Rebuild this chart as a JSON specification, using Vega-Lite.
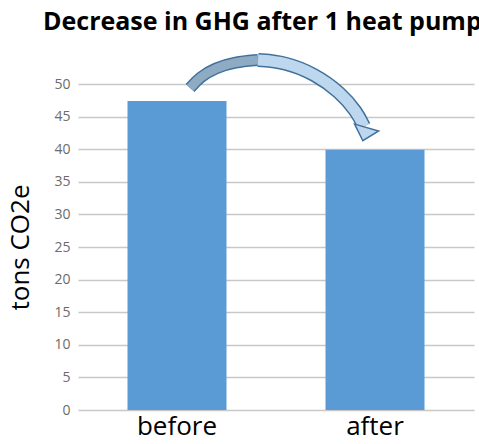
{
  "$schema": "https://vega.github.io/schema/vega-lite/v6.json",
  "width": 396,
  "height": 326,
  "autosize": {"type": "none"},
  "padding": {"left": 78, "top": 84, "right": 5, "bottom": 34},
  "background": "white",
  "config": {"view": {"stroke": null}, "font": "Open Sans"},
  "title": {
    "text": "Decrease in GHG after 1 heat pump",
    "anchor": "start",
    "frame": "group",
    "fontSize": 25,
    "fontWeight": "bold",
    "color": "#000000",
    "font": "Open Sans",
    "dx": -35,
    "dy": 23,
    "offset": 20
  },
  "datasets": {
    "bars": [
      {"stage": "before", "tons": 47.4},
      {"stage": "after", "tons": 39.9}
    ],
    "arrowBack": [
      {"px": 0.066, "py": 49.39, "o": 1},
      {"px": 0.116, "py": 51.07, "o": 2},
      {"px": 0.192, "py": 52.45, "o": 3},
      {"px": 0.293, "py": 53.37, "o": 4},
      {"px": 0.409, "py": 53.68, "o": 5}
    ],
    "arrowFront": [
      {"px": 0.409, "py": 53.68, "o": 1},
      {"px": 0.545, "py": 53.37, "o": 2},
      {"px": 0.697, "py": 51.53, "o": 3},
      {"px": 0.823, "py": 48.77, "o": 4},
      {"px": 0.909, "py": 45.71, "o": 5},
      {"px": 0.944, "py": 43.5, "o": 6}
    ],
    "arrowHead": [
      {"px": 0.949, "py": 42.4}
    ]
  },
  "layer": [
    {
      "data": {"name": "bars"},
      "mark": {"type": "bar", "color": "#5b9bd5"},
      "encoding": {
        "x": {
          "field": "stage",
          "type": "nominal",
          "sort": ["before", "after"],
          "scale": {"paddingInner": 0.5, "paddingOuter": 0.25},
          "axis": {
            "title": null,
            "labelAngle": 0,
            "labelFontSize": 26,
            "labelColor": "#000000",
            "labelPadding": 3,
            "ticks": false,
            "domain": false
          }
        },
        "y": {
          "field": "tons",
          "type": "quantitative",
          "scale": {"domain": [0, 50], "nice": false},
          "axis": {
            "title": "tons CO2e",
            "titleFontSize": 26,
            "titleFontWeight": "normal",
            "titleColor": "#000000",
            "titlePadding": 20,
            "values": [0, 5, 10, 15, 20, 25, 30, 35, 40, 45, 50],
            "labelFontSize": 14,
            "labelColor": "#6b6b6b",
            "labelPadding": 8,
            "labelOverlap": false,
            "ticks": false,
            "domain": false,
            "gridColor": "#c8c8c8",
            "gridWidth": 1.3
          }
        }
      }
    },
    {
      "data": {"name": "arrowBack"},
      "mark": {"type": "line", "interpolate": "basis", "color": "#41719c", "strokeWidth": 12, "strokeCap": "butt", "clip": false},
      "encoding": {
        "x": {"field": "px", "type": "quantitative", "scale": {"domain": [-0.5, 1.5], "nice": false, "zero": false}, "axis": null},
        "y": {"field": "py", "type": "quantitative", "scale": {"domain": [0, 50], "nice": false}, "axis": null},
        "order": {"field": "o"}
      }
    },
    {
      "data": {"name": "arrowBack"},
      "mark": {"type": "line", "interpolate": "basis", "color": "#8faac3", "strokeWidth": 9, "strokeCap": "butt", "clip": false},
      "encoding": {
        "x": {"field": "px", "type": "quantitative", "scale": {"domain": [-0.5, 1.5], "nice": false, "zero": false}, "axis": null},
        "y": {"field": "py", "type": "quantitative", "scale": {"domain": [0, 50], "nice": false}, "axis": null},
        "order": {"field": "o"}
      }
    },
    {
      "data": {"name": "arrowFront"},
      "mark": {"type": "line", "interpolate": "basis", "color": "#41719c", "strokeWidth": 14, "strokeCap": "butt", "clip": false},
      "encoding": {
        "x": {"field": "px", "type": "quantitative", "scale": {"domain": [-0.5, 1.5], "nice": false, "zero": false}, "axis": null},
        "y": {"field": "py", "type": "quantitative", "scale": {"domain": [0, 50], "nice": false}, "axis": null},
        "order": {"field": "o"}
      }
    },
    {
      "data": {"name": "arrowFront"},
      "mark": {"type": "line", "interpolate": "basis", "color": "#bdd7ee", "strokeWidth": 11, "strokeCap": "butt", "clip": false},
      "encoding": {
        "x": {"field": "px", "type": "quantitative", "scale": {"domain": [-0.5, 1.5], "nice": false, "zero": false}, "axis": null},
        "y": {"field": "py", "type": "quantitative", "scale": {"domain": [0, 50], "nice": false}, "axis": null},
        "order": {"field": "o"}
      }
    },
    {
      "data": {"name": "arrowHead"},
      "mark": {"type": "point", "shape": "M-1,-0.5L1,-0.5L0,0.6Z", "filled": true, "fill": "#bdd7ee", "stroke": "#41719c", "strokeWidth": 1.5, "opacity": 1, "fillOpacity": 1, "angle": 16, "size": 625, "clip": false},
      "encoding": {
        "x": {"field": "px", "type": "quantitative", "scale": {"domain": [-0.5, 1.5], "nice": false, "zero": false}, "axis": null},
        "y": {"field": "py", "type": "quantitative", "scale": {"domain": [0, 50], "nice": false}, "axis": null}
      }
    }
  ],
  "resolve": {"scale": {"x": "independent", "y": "independent"}}
}
